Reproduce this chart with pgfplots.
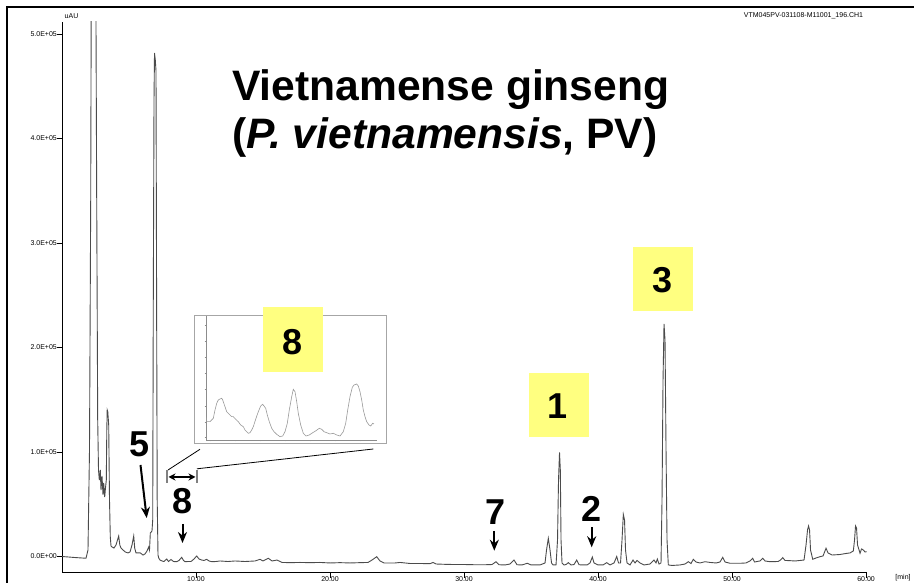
\documentclass[border=0pt]{standalone}
\usepackage{pgfplots}
\pgfplotsset{compat=1.18}
\usepackage{fontspec}
\setmainfont{Liberation Sans}
\usetikzlibrary{arrows.meta}
\definecolor{hl}{RGB}{255,255,128}
\definecolor{trace}{RGB}{75,75,75}
\begin{document}
\begin{tikzpicture}[x=1pt,y=1pt]
\useasboundingbox (0,0) rectangle (914,583);
\draw[line width=1.5pt] (7,0) -- (7,576) -- (914,576);
\begin{axis}[
  at={(62pt,10pt)}, anchor=south west, scale only axis,
  width=804.7pt, height=551pt,
  xmin=0, xmax=60.05, ymin=-0.158, ymax=5.115,
  axis lines*=left, axis line style={line width=1pt},
  tick align=outside, major tick length=5pt,
  tick style={black, line width=0.8pt},
  xtick={10,20,30,40,50,60},
  xticklabels={10.00,20.00,30.00,40.00,50.00,60.00},
  ytick={0,1,2,3,4,5},
  yticklabels={0.0E+00,1.0E+05,2.0E+05,3.0E+05,4.0E+05,5.0E+05},
  ticklabel style={font=\fontsize{7}{8}\selectfont},
  xticklabel style={inner sep=0pt, anchor=north},
  xticklabel shift=-2pt,
  yticklabel style={inner sep=0pt, anchor=east},
  clip=true,
]
\addplot[trace, line width=0.9pt] coordinates {
(0,0) (0.970,-0.010) (1.791,-0.017) (1.940,0.062) (2.052,1.019) (2.142,3.412)
(2.201,6.3) (2.500,6.3) (2.590,3.412) (2.664,1.306) (2.724,0.828) (2.784,0.732)
(2.858,0.828) (2.910,0.636) (2.985,0.770) (3.060,0.589) (3.112,0.703) (3.187,0.569)
(3.246,0.656) (3.306,0.732) (3.343,1.211) (3.373,1.402) (3.418,1.383) (3.485,1.258)
(3.545,0.541) (3.604,0.187) (3.657,0.100) (3.731,0.091) (3.881,0.081) (4.030,0.110)
(4.142,0.158) (4.231,0.196) (4.313,0.110) (4.403,0.081) (4.552,0.062) (4.724,0.043)
(4.925,0.034) (5.075,0.043) (5.224,0.110) (5.351,0.196) (5.425,0.081) (5.522,0.034)
(5.843,0.034) (6.045,0.014) (6.194,0.024) (6.343,0.053) (6.470,0.091) (6.530,0.062)
(6.590,0.225) (6.657,0.234) (6.716,0.244) (6.769,0.349) (6.813,2.455) (6.866,4.368)
(6.903,4.818) (6.963,4.751) (7.015,4.646) (7.060,2.455) (7.104,0.541) (7.164,0.014)
(7.216,-0.014) (7.313,-0.034) (7.463,-0.043) (7.612,-0.048) (7.813,-0.024) (7.948,-0.048)
(8.134,-0.029) (8.321,-0.048) (8.560,-0.050) (8.731,-0.038) (8.933,-0.008) (9.067,-0.038)
(9.179,-0.050) (9.403,-0.048) (9.627,-0.048) (9.851,-0.024) (10.052,0.005) (10.224,-0.024)
(10.425,-0.034) (10.597,-0.038) (10.799,-0.027) (10.970,-0.043) (11.194,-0.050) (11.493,-0.048)
(11.791,-0.043) (12.388,-0.048) (12.910,-0.043) (13.657,-0.048) (14.403,-0.043) (14.776,-0.027)
(15.000,-0.043) (15.396,-0.017) (15.672,-0.043) (16.045,-0.034) (16.418,-0.057) (17.015,-0.059)
(17.761,-0.057) (18.507,-0.059) (19.254,-0.057) (20.000,-0.062) (20.746,-0.059) (21.493,-0.062)
(22.239,-0.059) (22.836,-0.057) (23.134,-0.034) (23.485,-0.002) (23.731,-0.043) (24.030,-0.062)
(24.851,-0.062) (25.224,-0.057) (25.970,-0.067) (26.716,-0.067) (27.463,-0.069) (27.687,-0.057)
(27.910,-0.072) (28.582,-0.075) (29.328,-0.077) (30.075,-0.077) (30.821,-0.079) (31.567,-0.079)
(32.090,-0.077) (32.388,-0.050) (32.612,-0.079) (33.060,-0.081) (33.433,-0.072) (33.731,-0.034)
(33.955,-0.079) (34.328,-0.081) (34.724,-0.065) (35.000,-0.081) (35.672,-0.081) (36.045,-0.062)
(36.157,0.062) (36.291,0.174) (36.418,0.062) (36.530,-0.062) (36.642,-0.081) (36.866,-0.081)
(36.978,0.158) (37.052,0.732) (37.127,0.995) (37.187,0.828) (37.239,0.158) (37.313,-0.062)
(37.463,-0.081) (37.612,-0.077) (37.784,-0.059) (37.985,-0.081) (38.209,-0.077) (38.410,-0.034)
(38.582,-0.079) (38.881,-0.081) (39.179,-0.081) (39.403,-0.062) (39.575,-0.005) (39.701,-0.062)
(40.000,-0.081) (40.373,-0.081) (40.649,-0.059) (40.896,-0.081) (41.194,-0.062) (41.396,0.000)
(41.530,-0.062) (41.679,-0.062) (41.791,0.158) (41.888,0.402) (41.978,0.349) (42.052,0.062)
(42.164,-0.062) (42.388,-0.081) (42.612,-0.034) (42.761,-0.062) (42.910,-0.038) (43.134,-0.062)
(43.433,-0.081) (43.881,-0.072) (44.179,-0.034) (44.328,-0.062) (44.425,-0.024) (44.552,-0.072)
(44.701,-0.062) (44.776,0.541) (44.851,1.689) (44.925,2.225) (45.000,2.072) (45.075,1.019)
(45.149,0.158) (45.246,-0.081) (45.522,-0.086) (46.119,-0.081) (46.493,-0.072) (46.739,-0.050)
(46.940,-0.067) (47.112,-0.027) (47.313,-0.053) (47.612,-0.062) (47.985,-0.050) (48.358,-0.057)
(48.806,-0.062) (49.104,-0.053) (49.306,-0.008) (49.478,-0.053) (49.851,-0.065) (50.597,-0.065)
(51.045,-0.062) (51.343,-0.043) (51.545,-0.017) (51.679,-0.053) (51.866,-0.048) (52.090,-0.043)
(52.291,-0.017) (52.463,-0.043) (52.836,-0.050) (53.433,-0.048) (53.619,-0.034) (53.784,-0.011)
(53.955,-0.038) (54.328,-0.040) (54.701,-0.043) (55.075,-0.038) (55.373,-0.034) (55.522,0.110)
(55.634,0.254) (55.709,0.292) (55.784,0.254) (55.858,0.062) (56.022,-0.027) (56.269,-0.014)
(56.567,-0.002) (56.791,0.005) (57.015,0.079) (57.164,0.034) (57.463,0.014) (58.060,0.019)
(58.507,0.029) (58.806,0.034) (59.052,0.053) (59.142,0.158) (59.216,0.292) (59.291,0.273)
(59.366,0.110) (59.552,0.031) (59.664,0.072) (59.799,0.062) (59.925,0.043) (60.052,0.046)
};
\end{axis}
% inset
\fill[white] (194,140) rectangle (386.7,268);
\draw[black!35, line width=0.6pt] (194,140) rectangle (386.7,268);
\begin{axis}[
  at={(206pt,143pt)}, anchor=south west, scale only axis,
  width=170.7pt, height=124pt,
  xmin=0, xmax=170.7, ymin=0, ymax=124,
  axis lines*=left, axis line style={black!45, line width=0.5pt},
  tick align=outside, major tick length=1.5pt,
  tick style={black!45, line width=0.4pt},
  xtick={4,29,54,79,104,129,154},
  ytick={2.3,18,34,50.7,66.7,82.7,99,115},
  xticklabels={}, yticklabels={},
]
\addplot[black!40, line width=0.6pt] coordinates {
(0,23.3) (0.7,18.3) (4,18.3) (7.3,21.7) (9,30) (10.7,36.7) (12.3,40) (14,41)
(15.7,41.7) (16.7,40) (19,33.3) (20.7,28.3) (22.3,26.7) (24,25) (25.7,23.3) (27.3,23.3)
(29.7,20.7) (32.3,18.3) (34.7,15) (37.3,13.3) (39,10) (40.7,8.3) (42.3,6.7) (44,7.3)
(45.7,10) (47.3,13.3) (50,21.7) (52.3,28.3) (54.7,34) (56.7,35.7) (58,34) (59.7,31.7)
(61.3,25) (63.3,18.3) (65.7,11.7) (68,8.3) (70.7,5.7) (74,3.3) (76.7,4) (79,8.3)
(81.3,16.7) (83.3,30) (85.7,43.3) (87.3,50.7) (89,48.3) (90.7,38.3) (92.3,26.7) (94.7,15)
(97.3,6.7) (100,4) (103.3,5) (106.7,7.3) (110,9.3) (113.3,11.7) (115.7,10.7) (118,8.3)
(120.7,7.3) (124,6) (127.3,6.7) (130.7,5) (134,4) (137.3,8.3) (139.7,16.7) (141.7,30)
(144,43.3) (146.3,52.7) (148,55) (150.7,56) (152.3,54) (154,48.3) (155.7,40) (157.3,30)
(159,23.3) (160.7,18.3) (163,15) (164.7,14) (166.7,16.7) (168,16)
};
\end{axis}
% small texts
\node[font=\fontsize{7}{8}\selectfont] at (71.5,567) {uAU};
\node[font=\fontsize{7}{8}\selectfont] at (903,5) {[min]};
\node[font=\fontsize{7}{8}\selectfont] at (803.5,567) {VTM045PV-031108-M11001\_196.CH1};
% title
\node[anchor=base west, inner sep=0, font=\fontsize{42.6}{50}\selectfont\bfseries] at (232,482) {Vietnamense ginseng};
\node[anchor=base west, inner sep=0, font=\fontsize{42.6}{50}\selectfont\bfseries] at (232,434) {(\textit{P. vietnamensis}, PV)};
% yellow boxes
\fill[hl] (263,276) rectangle (323,211);
\fill[hl] (529,210) rectangle (589,146);
\fill[hl] (633,336) rectangle (693,272);
\tikzset{num/.style={inner sep=0, font=\fontsize{36}{40}\selectfont\bfseries}}
\node[num] at (292.7,241.3) {8};
\node[num] at (558,177) {1};
\node[num] at (663,302.5) {3};
\node[num] at (139.5,139) {5};
\node[num] at (183,81.5) {8};
\node[num] at (495.5,71) {7};
\node[num] at (592,74.5) {2};
% arrows
\tikzset{arr/.style={line width=2pt, -{Stealth[length=11pt,width=9pt]}}}
\draw[arr] (140.5,118) -- (146.7,65);
\draw[arr] (182.5,59) -- (182.5,40);
\draw[arr] (494.3,52) -- (494.3,32.3);
\draw[arr] (591.7,55.7) -- (591.7,35.7);
% range bracket
\draw[black!50, line width=1.5pt] (167,113) -- (167,99.7);
\draw[black!50, line width=1.5pt] (197,113) -- (197,99.7);
\draw[line width=1.5pt, {Stealth[length=7pt,width=7pt]}-{Stealth[length=7pt,width=7pt]}] (168.5,106) -- (195.5,106);
\draw[line width=0.8pt] (168,113) -- (200,133.7);
\draw[line width=0.8pt] (197,114.2) -- (373.3,134);
\end{tikzpicture}
\end{document}
